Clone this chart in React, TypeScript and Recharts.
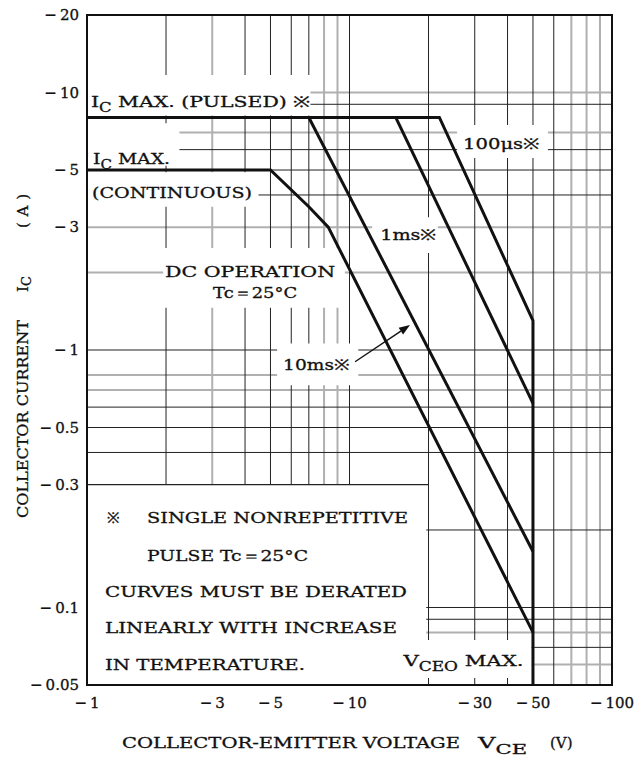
import React from "react";
import {
  LineChart,
  Line,
  XAxis,
  YAxis,
  CartesianGrid,
  ReferenceArea,
  ReferenceLine,
  Label,
} from "recharts";

const FONT = '"DejaVu Serif", "Liberation Serif", serif';
const INK = "#111";

// axis ticks, shown as negative values (PNP device)
const xTicks = [1, 3, 5, 10, 30, 50, 100];
const yTicks = [0.05, 0.1, 0.3, 0.5, 1, 3, 5, 10, 20];

// log grid, dark and light lines
const vGridDark = [2, 4, 5, 6, 7, 10, 20, 30, 40, 50, 60];
const vGridLight = [3, 8, 9, 70, 80, 90];
const hGridDark = [9, 6, 5, 4, 1, 0.6, 0.5, 0.4, 0.2, 0.1, 0.09, 0.07];
const hGridLight = [10, 7, 3, 2, 0.8, 0.7, 0.08, 0.06];

// safe operating area curves, VCE (V) against IC (A)
const pulse100usV = [1, 22, 50, 50];
const pulse100usI = [8, 8, 1.3, 0.05];
const pulse1msV = [15, 50];
const pulse1msI = [8, 0.62];
const pulse10msV = [7, 50];
const pulse10msI = [8, 0.165];
const dcV = [1, 5, 7, 8.3, 50];
const dcI = [5, 5, 3.6, 3, 0.08];

const toPoints = (v: number[], i: number[]) => v.map((x, k) => ({ v: x, i: i[k] }));

const neg = (n: number) => "\u2212\u2009" + n;

// a touch of stroke makes the scan-like heavier serif
const txt = { fontFamily: FONT, fontSize: 15, fill: INK, stroke: INK, strokeWidth: 0.3 };

// text block placed relative to the white box it sits on
const note = (rows: any[]) => (props: any) => {
  const { x, y } = props.viewBox;
  return (
    <g>
      {rows.map((r, k) => (
        <text
          key={k}
          x={x + r.dx}
          y={y + r.dy}
          {...txt}
          textLength={r.len}
          lengthAdjust="spacingAndGlyphs"
        >
          {r.pre}
          {r.sub && (
            <tspan dy={5} fontSize={12}>
              {r.sub}
            </tspan>
          )}
          {r.sub ? <tspan dy={-5}>{r.post}</tspan> : r.post}
        </text>
      ))}
    </g>
  );
};

const XTitle = (props: any) => {
  const { x, y } = props.viewBox;
  return (
    <g>
      <text x={x + 35} y={y + 63} {...txt} textLength={338} lengthAdjust="spacingAndGlyphs">
        COLLECTOR-EMITTER VOLTAGE
      </text>
      <text x={x + 391} y={y + 63} {...txt} textLength={49} lengthAdjust="spacingAndGlyphs">
        V<tspan dy={6} fontSize={13}>CE</tspan>
      </text>
      <text x={x + 463} y={y + 63} {...txt}>
        (V)
      </text>
    </g>
  );
};

const YTitle = (props: any) => {
  const { x, y } = props.viewBox;
  const bx = x + 21;
  const by = y + 503;
  return (
    <g transform={`translate(${bx}, ${by}) rotate(-90)`}>
      <text x={0} y={0} {...txt} textLength={198} lengthAdjust="spacingAndGlyphs">
        COLLECTOR CURRENT
      </text>
      <text x={226} y={0} {...txt}>
        I<tspan dy={3} fontSize={13}>C</tspan>
      </text>
      <text x={290} y={0} {...txt} textLength={34} lengthAdjust="spacing">
        (A)
      </text>
    </g>
  );
};

const Arrow = (props: any) => {
  const { x1, y1, x2, y2 } = props;
  const a = Math.atan2(y2 - y1, x2 - x1);
  const L = 11;
  const W = 4;
  const bx = x2 - L * Math.cos(a);
  const by = y2 - L * Math.sin(a);
  const px = -Math.sin(a) * W;
  const py = Math.cos(a) * W;
  return (
    <g>
      <line x1={x1} y1={y1} x2={bx} y2={by} stroke={INK} strokeWidth={1.4} />
      <polygon points={`${x2},${y2} ${bx + px},${by + py} ${bx - px},${by - py}`} fill={INK} />
    </g>
  );
};

const mask = { fill: "#fff", fillOpacity: 1, stroke: "none", ifOverflow: "visible" as const };

export default function App() {
  return (
    <div style={{ position: "absolute", left: 0, top: 0, background: "#fff" }}>
      <LineChart width={639} height={758} margin={{ top: 15, right: 27, bottom: 43, left: 7 }}>
        <CartesianGrid
          horizontalValues={hGridLight}
          verticalValues={vGridLight}
          stroke="#b0b0b0"
          strokeWidth={2}
        />
        <CartesianGrid
          horizontalValues={hGridDark}
          verticalValues={vGridDark}
          stroke="#222"
          strokeWidth={1}
        />
        <XAxis
          type="number"
          dataKey="v"
          scale="log"
          domain={[1, 100]}
          allowDataOverflow
          ticks={xTicks}
          interval={0}
          tickFormatter={neg}
          tickLine={false}
          axisLine={false}
          tickMargin={6}
          height={30}
          tick={txt}
        >
          <Label content={XTitle} />
        </XAxis>
        <YAxis
          type="number"
          dataKey="i"
          scale="log"
          domain={[0.05, 20]}
          allowDataOverflow
          ticks={yTicks}
          interval={0}
          tickFormatter={neg}
          tickLine={false}
          axisLine={false}
          width={80}
          tick={txt}
        >
          <Label content={YTitle} />
        </YAxis>

        <ReferenceArea
          x1={1}
          x2={7.1}
          y1={8.15}
          y2={11.7}
          {...mask}
          label={note([{ dx: 4, dy: 32, len: 220, pre: "I", sub: "C", post: " MAX. (PULSED) \u203B" }])}
        />
        <ReferenceArea
          x1={1}
          x2={2.25}
          y1={5.2}
          y2={7.6}
          {...mask}
          label={note([{ dx: 6, dy: 41, len: 77, pre: "I", sub: "C", post: " MAX." }])}
        />
        <ReferenceArea
          x1={1}
          x2={4.5}
          y1={3.6}
          y2={4.9}
          {...mask}
          label={note([{ dx: 5, dy: 26, len: 160, post: "(CONTINUOUS)" }])}
        />
        <ReferenceArea
          x1={1.95}
          x2={9.6}
          y1={1.46}
          y2={2.49}
          {...mask}
          label={note([
            { dx: 2, dy: 29, len: 170, post: "DC OPERATION" },
            { dx: 50, dy: 50, len: 84, post: "Tc\uFF1D25\u00B0C" },
          ])}
        />
        <ReferenceArea
          x1={5.3}
          x2={10.8}
          y1={0.73}
          y2={1.06}
          {...mask}
          label={note([{ dx: 6, dy: 27, len: 67, post: "10ms\u203B" }])}
        />
        <ReferenceArea
          x1={12.2}
          x2={21.7}
          y1={2.38}
          y2={3.28}
          {...mask}
          label={note([{ dx: 8, dy: 23, len: 57, post: "1ms\u203B" }])}
        />
        <ReferenceArea
          x1={25.7}
          x2={57}
          y1={5.57}
          y2={7.48}
          {...mask}
          label={note([{ dx: 6, dy: 24, len: 77, post: "100\u03BCs\u203B" }])}
        />
        <ReferenceArea
          x1={1}
          x2={19.6}
          y1={0.05}
          y2={0.3}
          {...mask}
          label={note([
            { dx: 20, dy: 38, post: "\u203B" },
            { dx: 60, dy: 38, len: 261, post: "SINGLE NONREPETITIVE" },
            { dx: 60, dy: 76, len: 161, post: "PULSE Tc\uFF1D25\u00B0C" },
            { dx: 18, dy: 112, len: 302, post: "CURVES MUST BE DERATED" },
            { dx: 18, dy: 148, len: 292, post: "LINEARLY WITH INCREASE" },
            { dx: 18, dy: 185, len: 200, post: "IN TEMPERATURE." },
          ])}
        />
        <ReferenceArea
          x1={15.5}
          x2={49.4}
          y1={0.0532}
          y2={0.0748}
          {...mask}
          label={note([{ dx: 4, dy: 26, len: 120, pre: "V", sub: "CEO", post: " MAX." }])}
        />
        <ReferenceLine
          segment={[
            { x: 1, y: 0.3 },
            { x: 20, y: 0.3 },
          ]}
          stroke="#222"
          strokeWidth={1.2}
        />

        <Line
          data={toPoints(pulse100usV, pulse100usI)}
          dataKey="i"
          stroke={INK}
          strokeWidth={3}
          dot={false}
          isAnimationActive={false}
        />
        <Line
          data={toPoints(pulse1msV, pulse1msI)}
          dataKey="i"
          stroke={INK}
          strokeWidth={3}
          dot={false}
          isAnimationActive={false}
        />
        <Line
          data={toPoints(pulse10msV, pulse10msI)}
          dataKey="i"
          stroke={INK}
          strokeWidth={3}
          dot={false}
          isAnimationActive={false}
        />
        <Line
          data={toPoints(dcV, dcI)}
          dataKey="i"
          stroke={INK}
          strokeWidth={3}
          dot={false}
          isAnimationActive={false}
        />

        <ReferenceLine
          segment={[
            { x: 10.5, y: 0.9 },
            { x: 17, y: 1.25 },
          ]}
          shape={Arrow}
        />
        <ReferenceArea
          x1={1}
          x2={100}
          y1={0.05}
          y2={20}
          fill="none"
          stroke={INK}
          strokeWidth={2}
          ifOverflow="visible"
        />
      </LineChart>
    </div>
  );
}
